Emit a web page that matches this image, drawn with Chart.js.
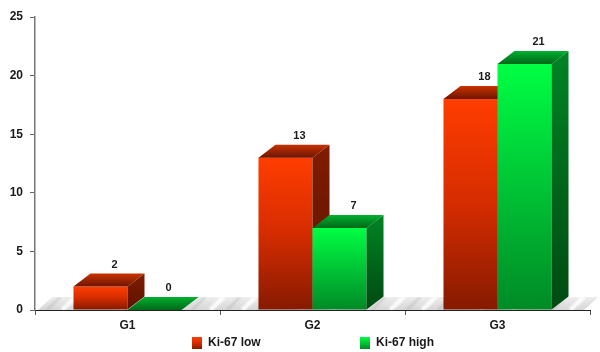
<!DOCTYPE html>
<html>
<head>
<meta charset="utf-8">
<script src="https://cdn.jsdelivr.net/npm/chart.js@4/dist/chart.umd.min.js"></script>
<style>
  html, body { margin: 0; padding: 0; background: #ffffff; }
  #wrap { width: 600px; height: 352px; }
</style>
</head>
<body>
<div id="wrap"><canvas id="chart" width="600" height="352"></canvas></div>
<script>
// Grade groups and counts per Ki-67 level
const categories = ['G1', 'G2', 'G3'];
const ki67Low = [2, 13, 18];
const ki67High = [0, 7, 21];
const seriesNames = ['Ki-67 low', 'Ki-67 high'];
const yMin = 0, yMax = 25, yStep = 5;

const FONT = '"Liberation Sans", Arial, sans-serif';
const DX = 17, DY = 13; // extrusion of the 3D boxes

const palette = [
  { front: ['#ff3d00', '#d52c00', '#861a00'], side: ['#7f1c00', '#5e1200'], top: ['#6c1500', '#c93200'] },
  { front: ['#00ff44', '#00c435', '#008a26'], side: ['#008424', '#004a12'], top: ['#006818', '#00b030'] }
];

function vGrad(ctx, y0, y1, stops) {
  const g = ctx.createLinearGradient(0, y0, 0, y1);
  stops.forEach((c, i) => g.addColorStop(i / (stops.length - 1), c));
  return g;
}

// soft marbled texture for the floor slab
function makeFloorPattern(ctx) {
  const c = document.createElement('canvas');
  c.width = 90; c.height = 13;
  const p = c.getContext('2d');
  const base = p.createLinearGradient(0, 0, 0, 13);
  base.addColorStop(0, '#eeeeee');
  base.addColorStop(1, '#d6d6d6');
  p.fillStyle = base;
  p.fillRect(0, 0, 90, 13);
  p.filter = 'blur(1.2px)';
  p.strokeStyle = 'rgba(255,255,255,0.95)';
  p.lineWidth = 4;
  [[-6, 0], [30, 0], [62, 0]].forEach(([x]) => {
    p.beginPath(); p.moveTo(x, 13); p.lineTo(x + 14, 0); p.stroke();
  });
  p.strokeStyle = 'rgba(150,150,150,0.35)';
  p.lineWidth = 2;
  [[12], [47], [78]].forEach(([x]) => {
    p.beginPath(); p.moveTo(x, 13); p.lineTo(x + 13, 0); p.stroke();
  });
  return ctx.createPattern(c, 'repeat');
}

const floorPlugin = {
  id: 'floor',
  beforeDraw(chart) {
    const { ctx, chartArea: a } = chart;
    const yb = chart.scales.y.getPixelForValue(0);
    ctx.save();
    ctx.translate(0, yb - DY);
    ctx.fillStyle = makeFloorPattern(ctx);
    ctx.beginPath();
    ctx.moveTo(a.left + 3, DY);
    ctx.lineTo(a.left + 3 + DX - 3, 0);
    ctx.lineTo(a.right + 8, 0);
    ctx.lineTo(a.right - 6, DY);
    ctx.closePath();
    ctx.fill();
    ctx.restore();
  }
};

const boxPlugin = {
  id: 'boxes3d',
  afterDatasetsDraw(chart) {
    const ctx = chart.ctx;
    const metas = chart.data.datasets.map((_, i) => chart.getDatasetMeta(i));
    ctx.save();
    categories.forEach((_, ci) => {
      metas.forEach((meta, di) => {
        const el = meta.data[ci];
        const col = palette[di];
        const xl = el.x - el.width / 2, xr = el.x + el.width / 2;
        const yt = el.y, yb = el.base;
        // front face
        if (yb - yt > 0.5) {
          ctx.fillStyle = vGrad(ctx, yt, yb, col.front);
          ctx.fillRect(xl, yt, xr - xl, yb - yt);
          // side face
          ctx.fillStyle = vGrad(ctx, yt - DY, yb, col.side);
          ctx.beginPath();
          ctx.moveTo(xr, yt);
          ctx.lineTo(xr + DX, yt - DY);
          ctx.lineTo(xr + DX, yb - DY);
          ctx.lineTo(xr, yb);
          ctx.closePath();
          ctx.fill();
        }
        // top face
        ctx.fillStyle = vGrad(ctx, yt, yt - DY, col.top);
        ctx.beginPath();
        ctx.moveTo(xl, yt);
        ctx.lineTo(xl + DX, yt - DY);
        ctx.lineTo(xr + DX, yt - DY);
        ctx.lineTo(xr, yt);
        ctx.closePath();
        ctx.fill();
      });
    });
    // value labels
    ctx.font = 'bold 11px ' + FONT;
    ctx.fillStyle = '#1a1a1a';
    ctx.textAlign = 'center';
    ctx.textBaseline = 'middle';
    metas.forEach((meta, di) => {
      meta.data.forEach((el, ci) => {
        const v = chart.data.datasets[di].data[ci];
        ctx.fillText(String(v), el.x + 14, el.y - DY - 9);
      });
    });
    ctx.restore();
  },
  afterDraw(chart) {
    // legend along the bottom
    const ctx = chart.ctx;
    const items = [{ x: 192 }, { x: 360 }];
    ctx.save();
    ctx.font = 'bold 12px ' + FONT;
    ctx.textAlign = 'left';
    ctx.textBaseline = 'middle';
    items.forEach((it, i) => {
      ctx.fillStyle = vGrad(ctx, 337, 349, palette[i].front);
      ctx.fillRect(it.x, 337, 10, 12);
      ctx.fillStyle = '#1a1a1a';
      ctx.fillText(chart.data.datasets[i].label, it.x + 16, 343);
    });
    ctx.restore();
  }
};

new Chart(document.getElementById('chart'), {
  type: 'bar',
  data: {
    labels: categories,
    datasets: [
      { label: seriesNames[0], data: ki67Low, backgroundColor: 'rgba(0,0,0,0)' },
      { label: seriesNames[1], data: ki67High, backgroundColor: 'rgba(0,0,0,0)' }
    ]
  },
  options: {
    responsive: false,
    animation: false,
    events: [],
    categoryPercentage: 0.584,
    barPercentage: 1,
    layout: { padding: { top: 17, right: 10, left: 0, bottom: 0 } },
    plugins: { legend: { display: false }, tooltip: { enabled: false } },
    scales: {
      x: {
        z: 1,
        grid: { display: true, drawOnChartArea: false, offset: true, tickLength: 5, color: '#555' },
        border: { display: true, color: '#222', width: 1 },
        ticks: { color: '#1a1a1a', font: { family: FONT, size: 12, weight: 'bold' }, padding: 3 },
        afterFit(scale) { scale.height = 42; }
      },
      y: {
        min: yMin, max: yMax,
        grid: { display: true, drawOnChartArea: false, tickLength: 5, color: '#666' },
        border: { display: true, color: '#777', width: 1.5 },
        ticks: { stepSize: yStep, color: '#1a1a1a', font: { family: FONT, size: 12, weight: 'bold' }, padding: 7 },
        afterFit(scale) { scale.width = 35; }
      }
    }
  },
  plugins: [floorPlugin, boxPlugin]
});
</script>
</body>
</html>
